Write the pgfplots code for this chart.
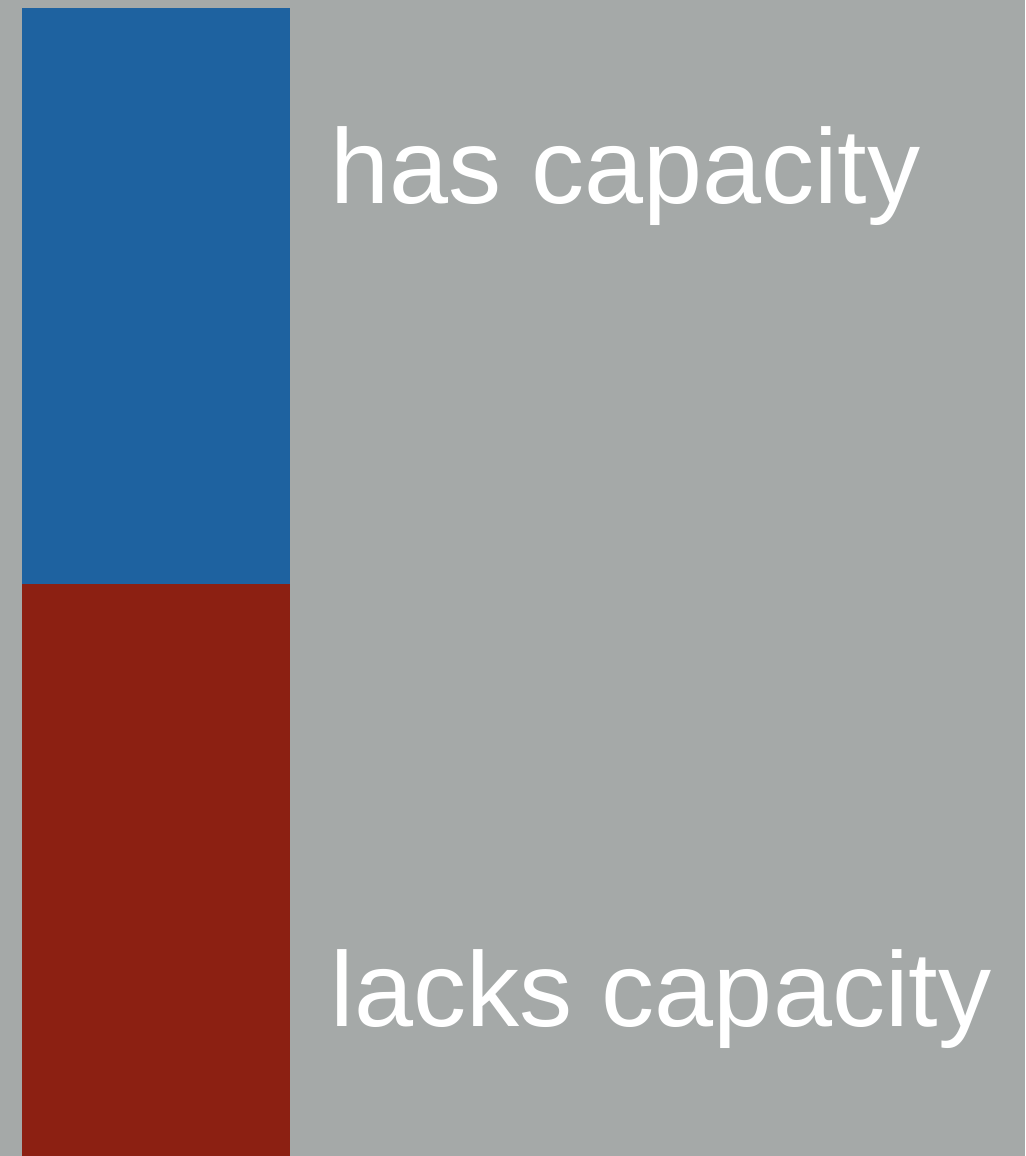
\documentclass[border=0pt]{standalone}
\usepackage{fontspec}
\setmainfont{Liberation Sans}
\usepackage{pgfplots}
\pgfplotsset{compat=1.18}

\definecolor{bgcol}{RGB}{165,169,168}
\definecolor{hascol}{RGB}{30,98,160}
\definecolor{lackcol}{RGB}{140,32,18}

% share of the bar, per cent
\pgfplotstableread{
x lacks has
156 49.83 50.17
}\capdata

\begin{document}
\begin{tikzpicture}
  \fill[bgcol] (0,0) rectangle (10.25cm,11.56cm);
  \begin{axis}[
    at={(0,0)}, anchor=origin,
    width=10.25cm, height=11.56cm, scale only axis,
    xmin=0, xmax=1025, ymin=0, ymax=100.70,
    axis lines=none, ticks=none, clip=false,
    ybar stacked, bar width=268,
  ]
    \addplot[fill=lackcol, draw=none] table[x=x, y=lacks] {\capdata};
    \addplot[fill=hascol, draw=none] table[x=x, y=has] {\capdata};
    \node[anchor=base west, inner sep=0pt, text=white,
          font=\fontsize{30.2}{36}\selectfont] at (axis cs:330,82.93) {has capacity};
    \node[anchor=base west, inner sep=0pt, text=white,
          font=\fontsize{30.2}{36}\selectfont] at (axis cs:330,11.24) {lacks capacity};
  \end{axis}
\end{tikzpicture}
\end{document}
